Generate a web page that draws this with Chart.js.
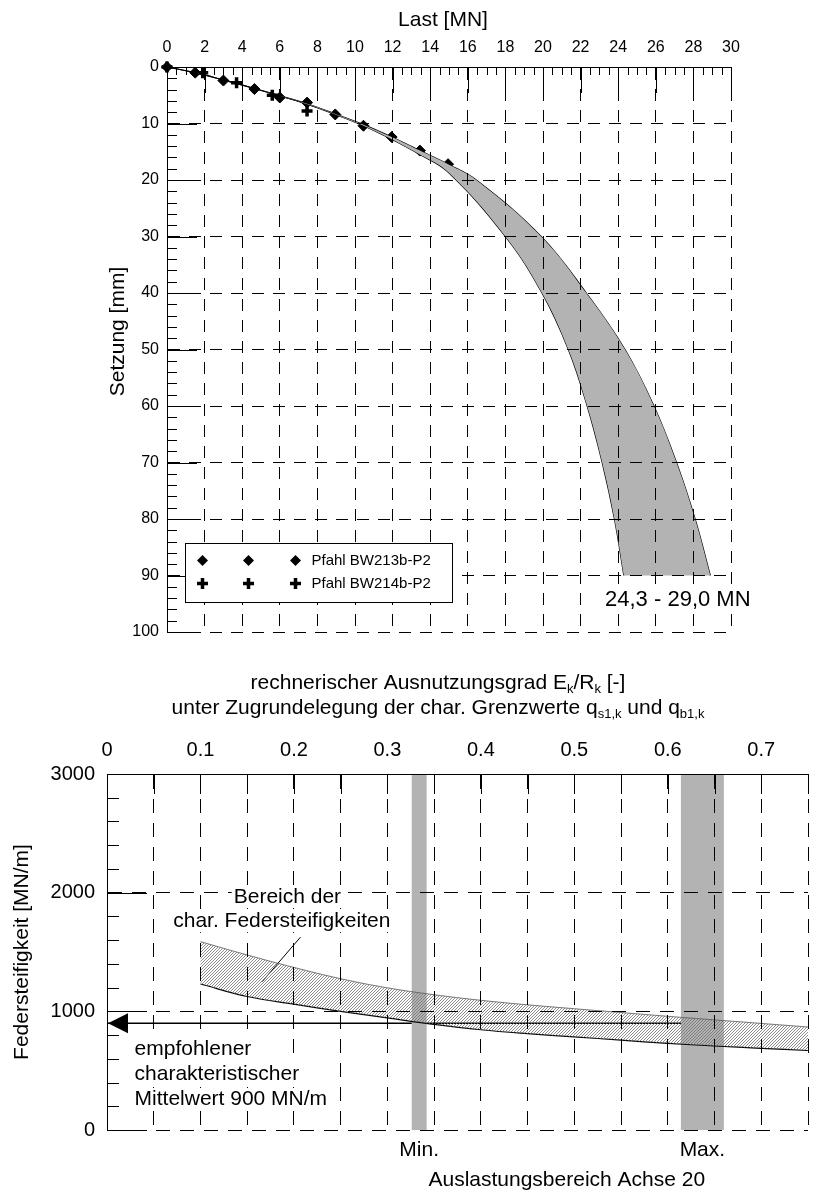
<!DOCTYPE html>
<html>
<head>
<meta charset="utf-8">
<script src="https://cdn.jsdelivr.net/npm/chart.js@4.4.1/dist/chart.umd.min.js"></script>
<style>
  html, body { margin: 0; padding: 0; background: #fff; width: 817px; height: 1191px; overflow: hidden; }
  #top { position: absolute; left: 0; top: 0; width: 817px; height: 650px; }
  #bot { position: absolute; left: 0; top: 640px; width: 820px; height: 551px; }
</style>
</head>
<body>
<div id="top"><canvas id="loadChart"></canvas></div>
<div id="bot"><canvas id="stiffChart"></canvas></div>
<script>
// ---- Probebelastung: Last [MN] / Setzung [mm]
const p213Load   = [0, 1.5, 3.0, 4.65, 6.0, 7.45, 8.95, 10.45, 11.95, 13.45, 14.95];
const p213Settle = [0, 1.0, 2.4, 3.9, 5.4, 6.3, 8.4, 10.4, 12.4, 14.8, 17.2];
const p214Load   = [0, 1.9, 3.7, 5.6, 7.45];
const p214Settle = [0, 1.0, 2.8, 5.0, 7.8];

// Rechenkurven: weiche (linke) und steife (rechte) Grenze
const curveMinLoad   = [0, 1.5, 3.0, 4.65, 6.0, 7.45, 8.95, 10.45, 11.95, 13.45, 14.95, 18.0, 19.95, 21.35, 22.35, 23.15, 23.8, 24.3];
const curveMinSettle = [0, 1.0, 2.3, 3.8, 5.1, 6.6, 8.4, 10.4, 12.8, 15.5, 18.6, 30, 40, 50, 60, 70, 80, 90];
const curveMaxLoad   = [0, 1.5, 3.0, 4.65, 6.0, 7.45, 8.95, 10.45, 11.95, 13.45, 14.95, 16.45, 19.9, 22.3, 24.36, 25.9, 27.1, 28.09, 28.9];
const curveMaxSettle = [0, 1.0, 2.3, 3.8, 5.1, 6.5, 8.3, 10.2, 12.4, 14.8, 17.2, 20, 30, 40, 50, 60, 70, 80, 90];
const rangeLabel = '24,3 - 29,0 MN';

// ---- Federsteifigkeit [MN/m] / Ausnutzungsgrad
const utilX      = [0.10, 0.15, 0.20, 0.25, 0.30, 0.35, 0.40, 0.45, 0.50, 0.55, 0.60, 0.65, 0.70, 0.75];
const stiffUpper = [1587, 1475, 1370, 1275, 1198, 1140, 1093, 1055, 1022, 990, 958, 928, 898, 868];
const stiffLower = [1230, 1125, 1060, 1000, 945, 890, 845, 812, 785, 757, 730, 708, 688, 670];
const minBand = [0.326, 0.342];
const maxBand = [0.614, 0.660];
const recommended = 900;
const utilTickLabels = ['0', '0.1', '0.2', '0.3', '0.4', '0.5', '0.6', '0.7'];
const stiffTickLabels = ['0', '1000', '2000', '3000'];

const FONT = '"Liberation Sans", Arial, Helvetica, sans-serif';
Chart.defaults.font.family = FONT;
Chart.defaults.color = '#000';

const pts = (xs, ys) => xs.map((v, i) => ({ x: v, y: ys[i] }));
// closed outline: first curve, then second curve backwards (corner points doubled = sharp corners)
function outline(a, b) {
  const back = b.slice().reverse();
  return [...a, a[a.length - 1], back[0], ...back];
}

function hatchPattern() {
  const c = document.createElement('canvas');
  c.width = 3; c.height = 3;
  const g = c.getContext('2d');
  g.strokeStyle = '#6e6e6e';
  g.lineWidth = 0.8;
  g.beginPath();
  g.moveTo(0, 3); g.lineTo(3, 0);
  g.moveTo(-1, 1); g.lineTo(1, -1);
  g.moveTo(2, 4); g.lineTo(4, 2);
  g.stroke();
  return g.createPattern(c, 'repeat');
}

function diamond(ctx, x, y, r) {
  ctx.beginPath();
  ctx.moveTo(x, y - r); ctx.lineTo(x + r, y); ctx.lineTo(x, y + r); ctx.lineTo(x - r, y);
  ctx.closePath(); ctx.fill();
}
function plus(ctx, x, y, r) {
  ctx.save(); ctx.lineWidth = 3.5;
  ctx.beginPath();
  ctx.moveTo(x - r, y); ctx.lineTo(x + r, y); ctx.moveTo(x, y - r); ctx.lineTo(x, y + r);
  ctx.stroke(); ctx.restore();
}

// text on a white box (hides the grid behind it)
function boxedText(ctx, t, x, y, align) {
  const w = ctx.measureText(t).width;
  const x0 = align === 'center' ? x - w / 2 : x;
  ctx.save(); ctx.fillStyle = '#fff';
  ctx.fillRect(x0 - 2, y - 11, w + 4, 22);
  ctx.restore();
  ctx.textAlign = align;
  ctx.fillText(t, x, y);
}

// text with subscripts: parts = [[text, isSub], ...]
function subText(ctx, parts, cx, y, size) {
  const norm = `${size}px ${FONT}`, small = `${Math.round(size * 0.62)}px ${FONT}`;
  let w = 0;
  for (const [t, s] of parts) { ctx.font = s ? small : norm; w += ctx.measureText(t).width; }
  let x = cx - w / 2;
  ctx.textAlign = 'left'; ctx.textBaseline = 'middle';
  for (const [t, s] of parts) {
    ctx.font = s ? small : norm;
    ctx.fillText(t, x, s ? y + size * 0.3 : y);
    x += ctx.measureText(t).width;
  }
}

function innerTicks(ctx, a, xs, ys, xStep, xMajorEvery, xMinor, xMajor, yStep, yMajorEvery, yMinor, yMajor) {
  ctx.beginPath();
  const nx = Math.round((xs.max - xs.min) / xStep);
  for (let i = 0; i <= nx; i++) {
    const px = Math.round(xs.getPixelForValue(xs.min + i * xStep)) + 0.5;
    const len = i % xMajorEvery === 0 ? xMajor : xMinor;
    if (len > 0) { ctx.moveTo(px, a.top); ctx.lineTo(px, a.top + len); }
  }
  const ny = Math.round((ys.max - ys.min) / yStep);
  for (let i = 0; i <= ny; i++) {
    const py = Math.round(ys.getPixelForValue(ys.min + i * yStep)) + 0.5;
    const len = i % yMajorEvery === 0 ? yMajor : yMinor;
    ctx.moveTo(a.left, py); ctx.lineTo(a.left + len, py);
  }
  ctx.stroke();
}

const axisGrid = { color: '#000', lineWidth: 1, drawTicks: false, z: 1 };

// ================= upper chart =================
const topDeco = {
  id: 'topDeco',
  afterDraw(chart) {
    const { ctx, chartArea: a, scales: { x, y } } = chart;
    ctx.save();
    ctx.strokeStyle = '#000'; ctx.fillStyle = '#000'; ctx.lineWidth = 1;
    innerTicks(ctx, a, x, y, 0.5, 4, 8, 26, 2, 5, 10, 30);

    // axis titles
    ctx.font = `21px ${FONT}`;
    ctx.textAlign = 'center'; ctx.textBaseline = 'middle';
    ctx.fillText('Last [MN]', (a.left + a.right) / 2 - 6, 20);
    ctx.save();
    ctx.translate(118, (a.top + a.bottom) / 2 - 18);
    ctx.rotate(-Math.PI / 2);
    ctx.fillText('Setzung [mm]', 0, 0);
    ctx.restore();

    // range label
    ctx.font = `22px ${FONT}`;
    boxedText(ctx, rangeLabel, x.getPixelForValue(23.3), y.getPixelForValue(94.4), 'left');

    // legend box
    const bx = a.left + 18.5, by = 543.5, bw = 267, bh = 59;
    ctx.fillStyle = '#fff'; ctx.fillRect(bx, by, bw, bh);
    ctx.strokeRect(bx, by, bw, bh);
    ctx.fillStyle = '#000'; ctx.strokeStyle = '#000';
    const sx = [bx + 17, bx + 63, bx + 110];
    for (const px of sx) { diamond(ctx, px, by + 17, 5.5); plus(ctx, px, by + 40, 5.5); }
    ctx.font = `15px ${FONT}`;
    ctx.textAlign = 'left';
    ctx.fillText('Pfahl BW213b-P2', bx + 126, by + 17);
    ctx.fillText('Pfahl BW214b-P2', bx + 126, by + 40);
    ctx.restore();
  }
};

const tension = 0.4;
new Chart(document.getElementById('loadChart'), {
  type: 'line',
  data: {
    datasets: [
      {
        data: outline(pts(curveMinLoad, curveMinSettle), pts(curveMaxLoad, curveMaxSettle)),
        fill: 'shape', backgroundColor: '#b3b3b3', borderColor: 'rgba(0,0,0,0)', borderWidth: 0,
        pointRadius: 0, tension
      },
      { data: pts(curveMinLoad, curveMinSettle), borderColor: '#000', borderWidth: 1.2, pointRadius: 0, fill: false, tension },
      { data: pts(curveMaxLoad, curveMaxSettle), borderColor: '#000', borderWidth: 1.2, pointRadius: 0, fill: false, tension },
      {
        label: 'Pfahl BW213b-P2', data: pts(p213Load, p213Settle), showLine: false, clip: false,
        pointStyle: 'rectRot', pointRadius: 5.5, pointBackgroundColor: '#000', pointBorderColor: '#000', pointBorderWidth: 1
      },
      {
        label: 'Pfahl BW214b-P2', data: pts(p214Load, p214Settle), showLine: false, clip: false,
        pointStyle: 'cross', pointRadius: 5.5, pointBorderColor: '#000', pointBorderWidth: 3.5
      }
    ]
  },
  options: {
    responsive: true, maintainAspectRatio: false, animation: false,
    layout: { padding: { top: 0, left: 0, right: 86, bottom: 18 } },
    plugins: { legend: { display: false }, tooltip: { enabled: false } },
    scales: {
      x: {
        type: 'linear', position: 'top', min: 0, max: 30,
        ticks: { stepSize: 2, padding: 10, font: { size: 16 }, color: '#000' },
        grid: axisGrid,
        border: { display: true, color: '#000', width: 1, dash: [12, 9], z: 1 },
        afterFit: s => { s.height = 67; }
      },
      y: {
        type: 'linear', reverse: true, min: 0, max: 100,
        ticks: { stepSize: 10, padding: 8, font: { size: 16 }, color: '#000' },
        grid: axisGrid,
        border: { display: true, color: '#000', width: 1, dash: [12, 9], z: 1 },
        afterFit: s => { s.width = 167; }
      }
    }
  },
  plugins: [topDeco]
});

// ================= lower chart =================
const botDeco = {
  id: 'botDeco',
  afterDraw(chart) {
    const { ctx, chartArea: a, scales: { x, y } } = chart;
    ctx.save();
    ctx.strokeStyle = '#000'; ctx.fillStyle = '#000'; ctx.lineWidth = 1;
    innerTicks(ctx, a, x, y, 0.05, 1, 0, 20, 200, 5, 12, 40);

    // arrow head of the recommended value
    const ax = x.getPixelForValue(0), ay = y.getPixelForValue(recommended);
    ctx.beginPath();
    ctx.moveTo(ax + 1, ay); ctx.lineTo(ax + 21, ay - 10); ctx.lineTo(ax + 21, ay + 10);
    ctx.closePath(); ctx.fill();

    // axis titles
    subText(ctx, [['rechnerischer Ausnutzungsgrad E', false], ['k', true], ['/R', false], ['k', true], [' [-]', false]], 438, 43, 21);
    subText(ctx, [['unter Zugrundelegung der char. Grenzwerte q', false], ['s1,k', true], [' und q', false], ['b1,k', true]], 438, 68, 21);

    ctx.font = `21px ${FONT}`;
    ctx.textAlign = 'center'; ctx.textBaseline = 'middle';
    ctx.save();
    ctx.translate(22, (a.top + a.bottom) / 2);
    ctx.rotate(-Math.PI / 2);
    ctx.fillText('Federsteifigkeit [MN/m]', 0, 0);
    ctx.restore();

    // annotations
    boxedText(ctx, 'Bereich der', x.getPixelForValue(0.193), y.getPixelForValue(1963), 'center');
    boxedText(ctx, 'char. Federsteifigkeiten', x.getPixelForValue(0.187), y.getPixelForValue(1760), 'center');
    const minC = x.getPixelForValue((minBand[0] + minBand[1]) / 2);
    const maxC = x.getPixelForValue((maxBand[0] + maxBand[1]) / 2);
    ctx.textAlign = 'center';
    ctx.fillText('Min.', minC, a.bottom + 20);
    ctx.fillText('Max.', maxC, a.bottom + 20);
    ctx.fillText('Auslastungsbereich Achse 20', (minC + maxC) / 2 + 6, a.bottom + 50);

    const tx = x.getPixelForValue(0.0295);
    boxedText(ctx, 'empfohlener', tx, y.getPixelForValue(683), 'left');
    boxedText(ctx, 'charakteristischer', tx, y.getPixelForValue(472), 'left');
    boxedText(ctx, 'Mittelwert 900 MN/m', tx, y.getPixelForValue(261), 'left');
    ctx.restore();
  }
};

const bandBox = b => [{ x: b[0], y: 0 }, { x: b[1], y: 0 }, { x: b[1], y: 3000 }, { x: b[0], y: 3000 }];

new Chart(document.getElementById('stiffChart'), {
  type: 'line',
  data: {
    datasets: [
      {
        data: outline(pts(utilX, stiffUpper), pts(utilX, stiffLower)),
        fill: 'shape', backgroundColor: hatchPattern(), borderColor: 'rgba(0,0,0,0)', borderWidth: 0,
        pointRadius: 0, tension
      },
      { data: pts(utilX, stiffUpper), borderColor: '#555', borderWidth: 0.8, pointRadius: 0, fill: false, tension },
      { data: pts(utilX, stiffLower), borderColor: '#000', borderWidth: 1.2, pointRadius: 0, fill: false, tension },
      { data: bandBox(minBand), fill: 'shape', backgroundColor: '#b3b3b3', borderColor: 'rgba(0,0,0,0)', borderWidth: 0, pointRadius: 0, tension: 0 },
      { data: bandBox(maxBand), fill: 'shape', backgroundColor: '#b3b3b3', borderColor: 'rgba(0,0,0,0)', borderWidth: 0, pointRadius: 0, tension: 0 },
      { data: [{ x: 0, y: recommended }, { x: maxBand[1], y: recommended }], borderColor: '#000', borderWidth: 1.6, pointRadius: 0, fill: false },
      { data: [{ x: 0.207, y: 1625 }, { x: 0.166, y: 1250 }], borderColor: '#000', borderWidth: 1, pointRadius: 0, fill: false }
    ]
  },
  options: {
    responsive: true, maintainAspectRatio: false, animation: false,
    layout: { padding: { top: 0, left: 0, right: 0, bottom: 61 } },
    plugins: { legend: { display: false }, tooltip: { enabled: false } },
    scales: {
      x: {
        type: 'linear', position: 'top', min: 0, max: 0.75,
        ticks: {
          stepSize: 0.05, padding: 12, font: { size: 20 }, color: '#000', autoSkip: false, maxRotation: 0,
          callback: v => { const i = Math.round(v * 20); return i % 2 === 0 ? (utilTickLabels[i / 2] || '') : ''; }
        },
        grid: axisGrid,
        border: { display: true, color: '#000', width: 1, dash: [14, 10], z: 1 },
        afterFit: s => { s.height = 134; }
      },
      y: {
        type: 'linear', min: 0, max: 3000,
        ticks: { stepSize: 1000, padding: 12, font: { size: 20 }, color: '#000', callback: v => stiffTickLabels[Math.round(v / 1000)] },
        grid: axisGrid,
        border: { display: true, color: '#000', width: 1, dash: [14, 10], z: 1 },
        afterFit: s => { s.width = 107; }
      }
    }
  },
  plugins: [botDeco]
});
</script>
</body>
</html>
